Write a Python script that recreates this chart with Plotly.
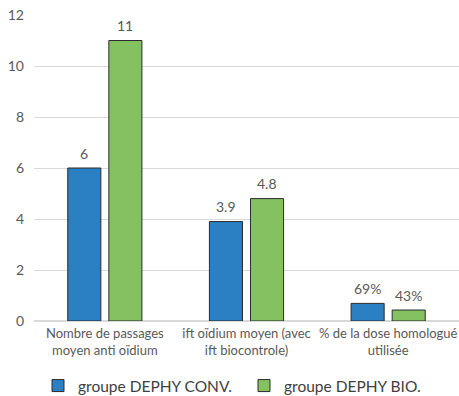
import plotly.graph_objects as go

categories = [
    "Nombre de passages<br>moyen anti oïdium",
    "ift oïdium moyen (avec<br>ift biocontrole)",
    "% de la dose homologué<br>utilisée",
]
conv_values = [6, 3.9, 0.69]
bio_values = [11, 4.8, 0.43]
conv_labels = ["6", "3.9", "69%"]
bio_labels = ["11", "4.8", "43%"]
y_ticks = [0, 2, 4, 6, 8, 10, 12]

FONT = "Lato"
GREY = "#595959"
W, H = 459, 396

fig = go.Figure()
fig.add_trace(go.Bar(
    name="groupe DEPHY CONV.", x=categories, y=conv_values, offsetgroup="conv",
    marker=dict(color="#2A80C2", line=dict(color="#2b2b2b", width=1)),
    legend="legend",
))
fig.add_trace(go.Bar(
    name="groupe DEPHY BIO.", x=categories, y=bio_values, offsetgroup="bio",
    marker=dict(color="#84C160", line=dict(color="#2b2b2b", width=1)),
    legend="legend2",
))

# value labels above each bar, placed over the bar's own slot
slot = (1 - 0.42) / 2
for offs, vals, labs in [(-slot / 2, conv_values, conv_labels), (slot / 2, bio_values, bio_labels)]:
    for i, (v, t) in enumerate(zip(vals, labs)):
        fig.add_annotation(
            x=i + offs, y=v, text=t, showarrow=False, yanchor="middle", yshift=15,
            font=dict(family=FONT, size=14, color=GREY),
        )

legend_style = dict(
    orientation="h", xanchor="left", xref="container",
    y=10 / H, yanchor="middle", yref="container",
    font=dict(family=FONT, size=15.5, color="#404040"),
    itemwidth=30, bgcolor="rgba(0,0,0,0)",
)

fig.update_layout(
    width=W, height=H,
    margin=dict(l=34, r=0, t=15, b=75),
    paper_bgcolor="white", plot_bgcolor="white",
    barmode="group", bargap=0.42, bargroupgap=0.195,
    font=dict(family=FONT, size=13, color=GREY),
    showlegend=True,
    legend=dict(x=38 / W, **legend_style),
    legend2=dict(x=244 / W, **legend_style),
)
fig.update_xaxes(
    type="category", showgrid=False, showline=False, ticks="",
    ticklabelstandoff=3, tickangle=0, automargin=False,
    tickfont=dict(family=FONT, size=13, color=GREY),
)
fig.update_yaxes(
    range=[0, 12], tickvals=y_ticks, showgrid=True, gridcolor="#D9D9D9",
    gridwidth=1, zeroline=True, zerolinecolor="#D9D9D9", showline=False,
    ticks="", ticklabelstandoff=9, automargin=False,
    tickfont=dict(family=FONT, size=14, color=GREY),
)

fig.write_html("out.html")
